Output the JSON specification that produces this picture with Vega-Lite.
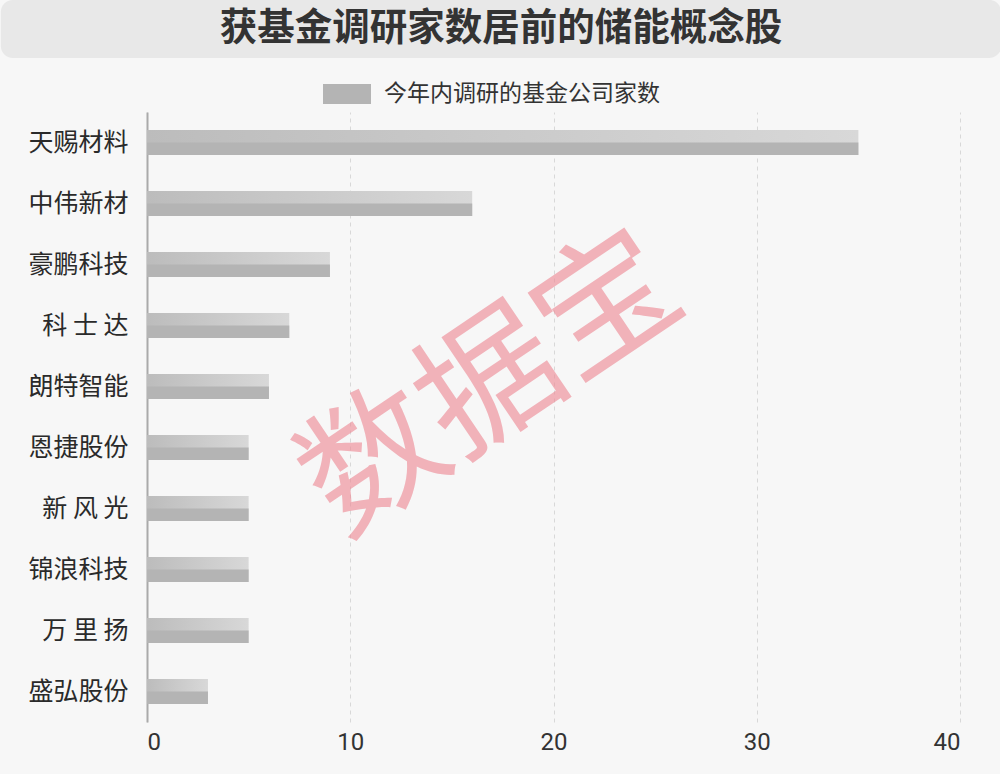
{
  "$schema": "https://vega.github.io/schema/vega-lite/v6.json",
  "background": "#f7f7f7",
  "padding": {"left": 0, "top": 0, "right": 0, "bottom": 20},
  "spacing": 16,
  "columns": 1,
  "align": "none",
  "bounds": "full",
  "resolve": {"legend": {"color": "independent"}, "scale": {"color": "independent", "x": "independent"}},
  "config": {
    "view": {"stroke": null},
    "font": "Noto Sans CJK SC"
  },
  "concat": [
    {
      "width": 813,
      "height": 58,
      "data": {"values": [{"title": "获基金调研家数居前的储能概念股"}]},
      "layer": [
        {
          "mark": {"type": "rect", "color": "#e8e8e8", "cornerRadius": 12},
          "encoding": {
            "x": {"datum": -7.19, "type": "quantitative", "scale": {"domain": [0, 40], "nice": false, "zero": false}, "axis": null},
            "x2": {"datum": 42.03}
          }
        },
        {
          "mark": {"type": "text", "fontSize": 37.5, "fontWeight": "bold", "color": "#333333", "font": "Noto Sans CJK SC"},
          "encoding": {
            "x": {"datum": 17.42, "type": "quantitative"},
            "text": {"field": "title", "type": "nominal"}
          }
        }
      ]
    },
    {
      "width": 813,
      "height": 610,
      "data": {
        "values": [
          {"name": "天赐材料", "count": 35},
          {"name": "中伟新材", "count": 16},
          {"name": "豪鹏科技", "count": 9},
          {"name": "科 士 达", "count": 7},
          {"name": "朗特智能", "count": 6},
          {"name": "恩捷股份", "count": 5},
          {"name": "新 风 光", "count": 5},
          {"name": "锦浪科技", "count": 5},
          {"name": "万 里 扬", "count": 5},
          {"name": "盛弘股份", "count": 3}
        ]
      },
      "encoding": {
        "y": {
          "field": "name",
          "type": "nominal",
          "sort": null,
          "scale": {"paddingInner": 0.59, "paddingOuter": 0.295},
          "axis": {
            "title": null,
            "ticks": false,
            "domainColor": "#aaaaaa",
            "domainWidth": 2,
            "labelFontSize": 25,
            "labelColor": "#2a2a2a",
            "labelPadding": 19,
            "labelFont": "Noto Sans CJK SC",
            "minExtent": 146,
            "grid": false
          }
        },
        "x": {
          "field": "count",
          "type": "quantitative",
          "scale": {"domain": [0, 40], "nice": false},
          "axis": {
            "title": null,
            "values": [0, 10, 20, 30, 40],
            "domain": false,
            "ticks": false,
            "labelFontSize": 24,
            "labelColor": "#333333",
            "labelFont": "Roboto",
            "labelPadding": 8,
            "grid": true,
            "gridColor": "#d8d8d8",
            "gridDash": [4, 4],
            "gridWidth": 1
          }
        }
      },
      "layer": [
        {
          "mark": {
            "type": "bar",
            "color": {
              "gradient": "linear",
              "x1": 0, "y1": 0, "x2": 1, "y2": 0,
              "stops": [
                {"offset": 0, "color": "#bcbcbc"},
                {"offset": 1, "color": "#d8d8d8"}
              ]
            }
          }
        },
        {
          "mark": {"type": "bar", "height": 12.5, "yOffset": 6.25},
          "encoding": {
            "color": {
              "datum": "今年内调研的基金公司家数",
              "type": "nominal",
              "scale": {"range": ["#b4b4b4"]},
              "legend": {
                "title": null,
                "orient": "none",
                "legendX": 180,
                "legendY": -38,
                "padding": 0,
                "symbolType": "M-1.2,-0.5H1.2V0.5H-1.2Z",
                "symbolSize": 1600,
                "symbolStrokeWidth": 0,
                "labelFontSize": 23,
                "labelColor": "#333333",
                "labelOffset": 17,
                "labelLimit": 500,
                "labelFont": "Noto Sans CJK SC",
                "encode": {
                  "symbols": {
                    "update": {
                      "fill": {"value": {
                        "gradient": "linear",
                        "x1": 0, "y1": 0, "x2": 1, "y2": 0,
                        "stops": [
                          {"offset": 0, "color": "#b8b8b8"},
                          {"offset": 1, "color": "#dedede"}
                        ]
                      }},
                      "stroke": {"value": null}
                    }
                  }
                }
              }
            }
          }
        },
        {
          "data": {"values": [{"w": "数据宝", "x": 17, "y": "朗特智能"}]},
          "mark": {
            "type": "text",
            "fontSize": 140,
            "angle": -34,
            "color": "#ee8e99",
            "opacity": 0.65,
            "font": "Noto Sans CJK SC",
            "align": "center",
            "baseline": "middle"
          },
          "encoding": {
            "x": {"field": "x", "type": "quantitative"},
            "y": {"field": "y", "type": "nominal"},
            "text": {"field": "w"}
          }
        }
      ]
    }
  ]
}
